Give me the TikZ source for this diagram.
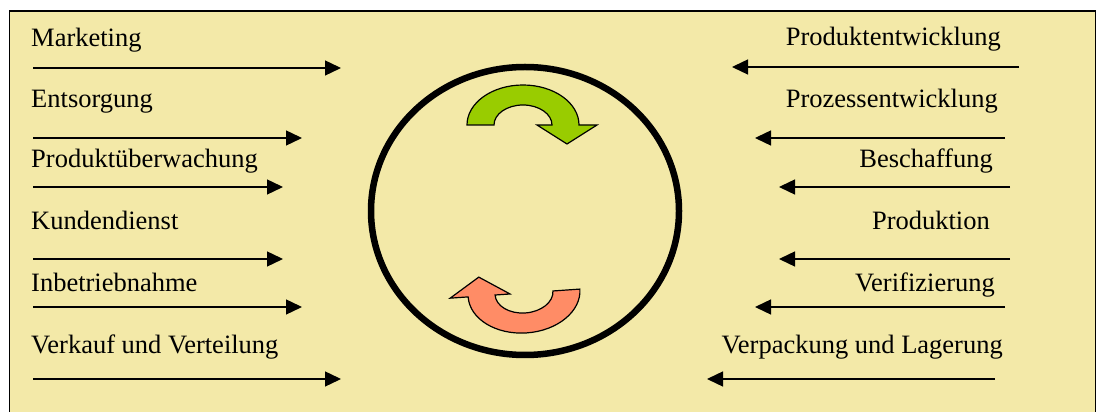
\documentclass[tikz,border=0pt]{standalone}
\usepackage{fontspec}
\setmainfont{Liberation Serif}
\usetikzlibrary{arrows.meta,shapes.geometric}
\definecolor{bgyellow}{RGB}{243,233,168}
\definecolor{cgreen}{RGB}{153,204,0}
\definecolor{csalmon}{RGB}{255,140,102}
\tikzset{
  lbl/.style={inner sep=0pt, font=\fontsize{26.5}{31}\selectfont},
  flow/.style={line width=1.4pt, -{Triangle[length=16pt,width=15pt]}},
  turn/.style={draw=black, line width=1.2pt, line join=miter}
}
\newcommand{\turnarrow}{(-56,0) arc[start angle=180,end angle=0,x radius=56,y radius=40] -- (74,0) -- (44,-19) -- (14,0) -- (29,0) arc[start angle=0,end angle=180,x radius=29,y radius=20] -- cycle}
\begin{document}
\begin{tikzpicture}[x=1pt,y=1pt]
\useasboundingbox (0,0) rectangle (1098,412);
\begin{scope}
\clip (0,0) rectangle (1098,412);
\draw[line width=1.5pt, fill=bgyellow] (9.5,-3) rectangle (1095.5,401);
\end{scope}
% circle
\node[draw, line width=6.5pt, ellipse, minimum width=308pt, minimum height=288pt, inner sep=0pt] (cyc) at (525,201) {};
% turning arrows
\path[turn, fill=cgreen, shift={(523,287)}] \turnarrow;
\path[turn, fill=csalmon, shift={(524,119)}, rotate=184] \turnarrow;
% left labels
\node[lbl, anchor=base west] (l1) at (31,365) {Marketing};
\node[lbl, anchor=base west] (l2) at (31,304) {Entsorgung};
\node[lbl, anchor=base west] (l3) at (31,244) {Produktüberwachung};
\node[lbl, anchor=base west] (l4) at (31,182) {Kundendienst};
\node[lbl, anchor=base west] (l5) at (31,120) {Inbetriebnahme};
\node[lbl, anchor=base west] (l6) at (31,58) {Verkauf und Verteilung};
% right labels
\node[lbl, anchor=base east] (r1) at (1001,366) {Produktentwicklung};
\node[lbl, anchor=base east] (r2) at (998,304) {Prozessentwicklung};
\node[lbl, anchor=base east] (r3) at (993,244) {Beschaffung};
\node[lbl, anchor=base east] (r4) at (990,182) {Produktion};
\node[lbl, anchor=base east] (r5) at (995,120) {Verifizierung};
\node[lbl, anchor=base east] (r6) at (1003,58) {Verpackung und Lagerung};
% arrow endpoints
\coordinate (la1) at (33,344); \coordinate (lb1) at (341,344);
\coordinate (la2) at (33,274); \coordinate (lb2) at (302,274);
\coordinate (la3) at (33,225); \coordinate (lb3) at (283,225);
\coordinate (la4) at (33,153); \coordinate (lb4) at (283,153);
\coordinate (la5) at (33,105); \coordinate (lb5) at (302,105);
\coordinate (la6) at (33,33);  \coordinate (lb6) at (341,33);
\coordinate (ra1) at (1019,345); \coordinate (rb1) at (732,345);
\coordinate (ra2) at (1005,274); \coordinate (rb2) at (755,274);
\coordinate (ra3) at (1010,225); \coordinate (rb3) at (779,225);
\coordinate (ra4) at (1010,153); \coordinate (rb4) at (779,153);
\coordinate (ra5) at (1005,105); \coordinate (rb5) at (755,105);
\coordinate (ra6) at (995,33);   \coordinate (rb6) at (707,33);
\foreach \i in {1,...,6}{
  \draw[flow] (la\i) -- (lb\i);
  \draw[flow] (ra\i) -- (rb\i);
}
\end{tikzpicture}
\end{document}
